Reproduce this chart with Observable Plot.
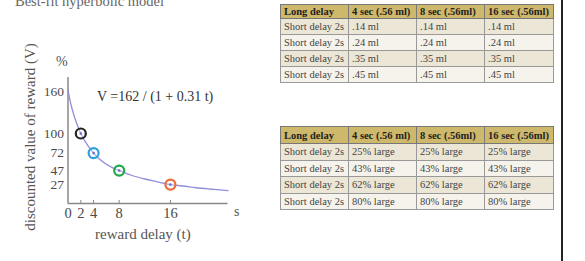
<!DOCTYPE html>
<html><head><meta charset="utf-8">
<script src="https://cdn.jsdelivr.net/npm/d3@7"></script>
<script src="https://cdn.jsdelivr.net/npm/@observablehq/plot@0.6"></script>
<style>
html,body{margin:0;padding:0;background:#fff;width:585px;height:261px;overflow:hidden;position:relative;font-family:"Liberation Serif",serif;}
.abs{position:absolute;white-space:nowrap;color:#555;}
#chart{position:absolute;left:0;top:0;}
table{position:absolute;border-collapse:collapse;font-family:"Liberation Serif",serif;font-size:10.5px;color:#444;table-layout:fixed;}
th,td{padding:0 0 0 3px;text-align:left;border:1px solid #999;overflow:hidden;white-space:nowrap;}
th{background:#cdb86b;color:#222;font-weight:bold;border-color:#777;}
td+td,th+th{border-left:1px solid #555;}
tr.r0 td{background:#ece6d6;}
tr.r1 td{background:#f6f3ec;}
#vline{position:absolute;left:561px;top:0;width:2px;height:261px;background:#222;}
</style></head>
<body>
<div class="abs" id="title" style="left:15px;top:-7px;font-size:14.5px;color:#666;">Best-fit hyperbolic model</div>
<div id="chart"></div>
<div class="abs" style="left:30px;top:137px;font-size:15px;transform:translate(-50%,-50%) rotate(-90deg);">discounted value of reward (V)</div>
<div class="abs" style="left:56px;top:54px;font-size:14px;">%</div>
<div class="abs" style="left:97px;top:89px;font-size:14px;color:#333;">V =162 / (1 + 0.31 t)</div>
<div class="abs" style="left:95px;top:226px;font-size:15px;">reward delay (t)</div>
<div class="abs" style="left:234px;top:204px;font-size:14px;">s</div>
<div id="tables"></div>
<div id="vline"></div>
<script>
// curve samples
const curveT = [0, 0.5, 1, 1.5, 2, 3, 4, 5, 6, 7, 8, 10, 12, 14, 16, 18, 20, 22, 25];
const curveV = [162, 140, 124, 111, 100, 84, 72, 63, 56, 51, 47, 40, 35, 31, 27, 25, 22.5, 20.7, 18.5];
// marked points
const pointT = [2, 4, 8, 16];
const pointV = [100, 72, 47, 27];
const pointColors = ["#222222", "#2a9fe0", "#1faa45", "#ee6a3a"];
const xTicks = [0, 2, 4, 8, 16];
const yTicks = [27, 47, 72, 100, 160];

// tables
const tableHeader = ["Long delay", "4 sec (.56 ml)", "8 sec (.56ml)", "16 sec (.56ml)"];
const rowLabel = "Short delay 2s";
const table1Values = [".14 ml", ".24 ml", ".35 ml", ".45 ml"];
const table2Values = ["25% large", "43% large", "62% large", "80% large"];

const curve = curveT.map((t, i) => ({t, v: curveV[i]}));
const pts = pointT.map((t, i) => ({t, v: pointV[i], c: pointColors[i]}));

const chart = Plot.plot({
  width: 280, height: 261,
  marginLeft: 67.5, marginRight: 52.5, marginTop: 77, marginBottom: 58,
  x: {domain: [0, 25]},
  y: {domain: [0, 180]},
  style: {fontFamily: "Liberation Serif, serif", color: "#555", background: "transparent"},
  marks: [
    Plot.axisY({ticks: yTicks, tickSize: 0, tickPadding: 4, fontSize: 13.5, label: null, fill: "#4a4a4a"}),
    Plot.axisX({ticks: xTicks, tickSize: 0, tickPadding: 4, fontSize: 14.5, label: null, fill: "#4a4a4a"}),
    Plot.axisX({ticks: [2, 4, 8, 16], tickSize: -3, tickFormat: () => "", label: null, stroke: "#888"}),
    Plot.ruleX([0], {stroke: "#888", strokeWidth: 1.5}),
    Plot.ruleY([0], {stroke: "#888", strokeWidth: 1.5}),
    Plot.line(curve, {x: "t", y: "v", curve: "catmull-rom", stroke: "#8f8fdc", strokeWidth: 1.3}),
    Plot.dot(pts, {x: "t", y: "v", r: 5, stroke: "c", strokeWidth: 2.2, fill: "white", fillOpacity: 0.3}),
    Plot.dot(pts, {x: "t", y: "v", r: 1.3, fill: "#6a6acc", stroke: null})
  ]
});
document.getElementById("chart").appendChild(chart);

function makeTable(values, top, headH, rowH) {
  const tbl = document.createElement("table");
  tbl.style.left = "280px";
  tbl.style.top = top + "px";
  tbl.style.width = "273px";
  const cg = document.createElement("colgroup");
  [68, 68, 68, 69].forEach(w => { const c = document.createElement("col"); c.style.width = w + "px"; cg.appendChild(c); });
  tbl.appendChild(cg);
  const hr = document.createElement("tr");
  hr.style.height = headH + "px";
  tableHeader.forEach(h => { const th = document.createElement("th"); th.textContent = h; hr.appendChild(th); });
  tbl.appendChild(hr);
  values.forEach((v, i) => {
    const tr = document.createElement("tr");
    tr.className = "r" + (i % 2);
    tr.style.height = rowH + "px";
    const td0 = document.createElement("td"); td0.textContent = rowLabel; tr.appendChild(td0);
    for (let k = 0; k < 3; k++) { const td = document.createElement("td"); td.textContent = v; tr.appendChild(td); }
    tbl.appendChild(tr);
  });
  document.getElementById("tables").appendChild(tbl);
}
makeTable(table1Values, 4, 14, 16);
makeTable(table2Values, 126, 17, 16.5);
</script>
</body></html>
